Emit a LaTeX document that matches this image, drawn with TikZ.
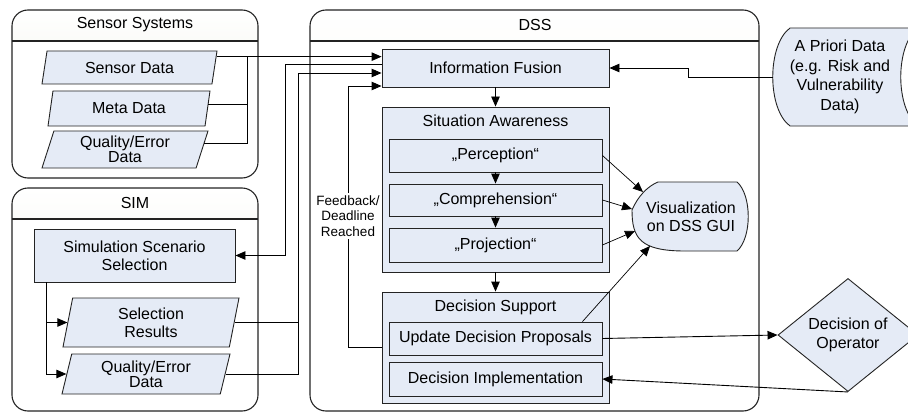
\documentclass[tikz,border=0pt]{standalone}
\usepackage{fontspec}
\setmainfont{Liberation Sans}
\usetikzlibrary{arrows.meta,shapes.geometric,calc}
\definecolor{boxfill}{RGB}{229,235,246}
\definecolor{hdrfill}{RGB}{232,235,220}
\definecolor{wire}{RGB}{35,35,35}
\tikzset{
    arr/.style={-{Triangle[length=10pt,width=8.5pt]}},
    pool/.style={draw=wire, line width=1.1pt, rounded corners=16pt, path picture={
        \shade[sharp corners, top color=white, bottom color=hdrfill]
            (path picture bounding box.north west) rectangle ([yshift=-31pt]path picture bounding box.north east);
        \draw[sharp corners, line width=1.1pt, wire]
            ([yshift=-31pt]path picture bounding box.north west) -- ([yshift=-31pt]path picture bounding box.north east);
    }},
    process/.style={draw=wire, fill=boxfill, line width=0.9pt, inner sep=1pt, align=center},
    datapar/.style={trapezium, trapezium stretches body, trapezium left angle=66, trapezium right angle=114,
        draw=wire, fill=boxfill, line width=0.9pt, inner sep=0pt, align=center},
    tight/.style={font=\fontsize{16pt}{15pt}\selectfont}
}
\begin{document}
\begin{tikzpicture}[x=1pt, y=-1pt, line width=0.9pt, font=\fontsize{16pt}{18pt}\selectfont]
    \useasboundingbox (0,0) rectangle (908,412);

    \node (senspool) at (135,94) [pool, minimum width=246pt, minimum height=168pt] {};
    \node (simpool) at (135,299.5) [pool, minimum width=246pt, minimum height=223pt] {};
    \node (dsspool) at (534.5,210.5) [pool, minimum width=449pt, minimum height=401pt] {};

    \node (senstitle) at (135,25) {Sensor Systems};
    \node (simtitle) at (135,203) {SIM};
    \node (dsstitle) at (535,25) {DSS};

    \node (sensdata) at (129.5,67.5) [datapar, minimum width=175pt, minimum height=33pt] {Sensor Data};
    \node (metadata) at (129,108.5) [datapar, minimum width=162pt, minimum height=35pt] {Meta Data};
    \node (sensqual) at (125,149.5) [datapar, tight, minimum width=166pt, minimum height=37pt] {Quality/Error\\Data};

    \node (simsel) at (134.5,255.5) [process, minimum width=201pt, minimum height=53pt] {Simulation Scenario\\Selection};
    \node (selres) at (151,322.5) [datapar, trapezium left angle=72, trapezium right angle=108,
        minimum width=176pt, minimum height=49pt] {Selection\\Results};
    \node (simqual) at (146,374) [datapar, tight, trapezium left angle=70, trapezium right angle=110,
        minimum width=168pt, minimum height=40pt] {Quality/Error\\Data};

    \node (fusion) at (495.5,68) [process, minimum width=227pt, minimum height=38pt] {Information Fusion};
    \node (sabox) at (495.5,189.5) [process, minimum width=227pt, minimum height=165pt] {};
    \node (satitle) at (495.5,121) {Situation Awareness};
    \node (percep) at (495.5,155.5) [process, minimum width=213pt, minimum height=33pt] {„Perception“};
    \node (compre) at (495.5,200) [process, minimum width=213pt, minimum height=32pt] {„Comprehension“};
    \node (project) at (495.5,245) [process, minimum width=213pt, minimum height=34pt] {„Projection“};
    \node (dsbox) at (495.5,347.5) [process, minimum width=227pt, minimum height=111pt] {};
    \node (dstitle) at (495.5,307) {Decision Support};
    \node (update) at (495.5,338.5) [process, minimum width=213pt, minimum height=33pt] {Update Decision Proposals};
    \node (implement) at (495.5,379) [process, minimum width=213pt, minimum height=34pt] {Decision Implementation};

    \draw[fill=boxfill, draw=wire]
        (790,28) -- (918,28) .. controls (895,45) and (895,109) .. (918,126)
        -- (790,126) .. controls (767,109) and (767,45) .. (790,28) -- cycle;
    \node (apriori) at (840,77) [align=center, font=\fontsize{16pt}{19.5pt}\selectfont] {A Priori Data\\(e.g. Risk and\\Vulnerability\\Data)};
    \coordinate (aprioriL) at (773,77);

    \draw[fill=boxfill, draw=wire]
        (658,182) -- (737,182) .. controls (752,195) and (752,238) .. (737,251)
        -- (685,251) .. controls (640,251) and (632,238) .. (632,210)
        .. controls (638,196) and (648,186) .. (658,182) -- cycle;
    \node (viz) at (691,217) [align=center] {Visualization\\on DSS GUI};
    \coordinate (vizA) at (643,192);
    \coordinate (vizB) at (632,209);
    \coordinate (vizC) at (635,231);
    \coordinate (vizD) at (650,246);

    \node (decop) at (848,335) [diamond, draw=wire, fill=boxfill, minimum width=140pt, minimum height=88pt,
        inner sep=0pt, align=center, font=\fontsize{16pt}{19pt}\selectfont] {Decision of\\Operator};

    \node (fbnote) at (348,216) [align=center, inner sep=2pt, font=\fontsize{13.5pt}{15.5pt}\selectfont] {Feedback/\\Deadline\\Reached};

    \coordinate (sensout) at ($(sensdata.top right corner)!.18!(sensdata.bottom right corner)$);
    \coordinate (metaout) at ($(metadata.top right corner)!.4!(metadata.bottom right corner)$);
    \coordinate (qualout) at ($(sensqual.top right corner)!.35!(sensqual.bottom right corner)$);
    \coordinate (sensbus) at (247,0);
    \coordinate (simbusA) at (285,0);
    \coordinate (simbusB) at (298,0);
    \coordinate (fusinB) at ([yshift=-5pt]fusion.west);
    \coordinate (fusinC) at ([yshift=-18pt]fusion.west);
    \coordinate (simtap) at ([xshift=13pt]simsel.south west);

    \draw[arr] (sensout) -- (sensout -| fusion.west);
    \draw (metaout) -- (metaout -| sensbus);
    \draw (qualout) -| (sensout -| sensbus);

    \draw[arr] ([yshift=4pt]fusion.west) -| (simbusA |- simsel.east) -- (simsel.east);
    \draw[arr] (selres.east) -| (simbusB |- fusinB) -- (fusinB);
    \draw (simqual.east) -| (simbusB |- selres.east);
    \draw[arr] (simtap) |- (selres.west);
    \draw[arr] (simtap) |- (simqual.west);

    \draw[arr] (aprioriL) -- ++(-85,0) |- (fusion.east);

    \draw[arr] (fusion) -- (sabox);
    \draw[arr] (percep) -- (compre);
    \draw[arr] (compre) -- (project);
    \draw[arr] (sabox) -- (dsbox);

    \draw (dsbox.west) -| (fbnote.south);
    \draw[arr] (fbnote.north) |- (fusinC);

    \draw[arr, line width=0.7pt] (percep.east) -- (vizA);
    \draw[arr, line width=0.7pt] (compre.east) -- (vizB);
    \draw[arr, line width=0.7pt] (project.east) -- (vizC);
    \draw[arr, line width=0.7pt] ([xshift=87pt]update.north) -- (vizD);

    \draw[arr] (update.east) -- (decop.west);
    \draw[arr] (decop.south) -- (implement.east);
\end{tikzpicture}
\end{document}
